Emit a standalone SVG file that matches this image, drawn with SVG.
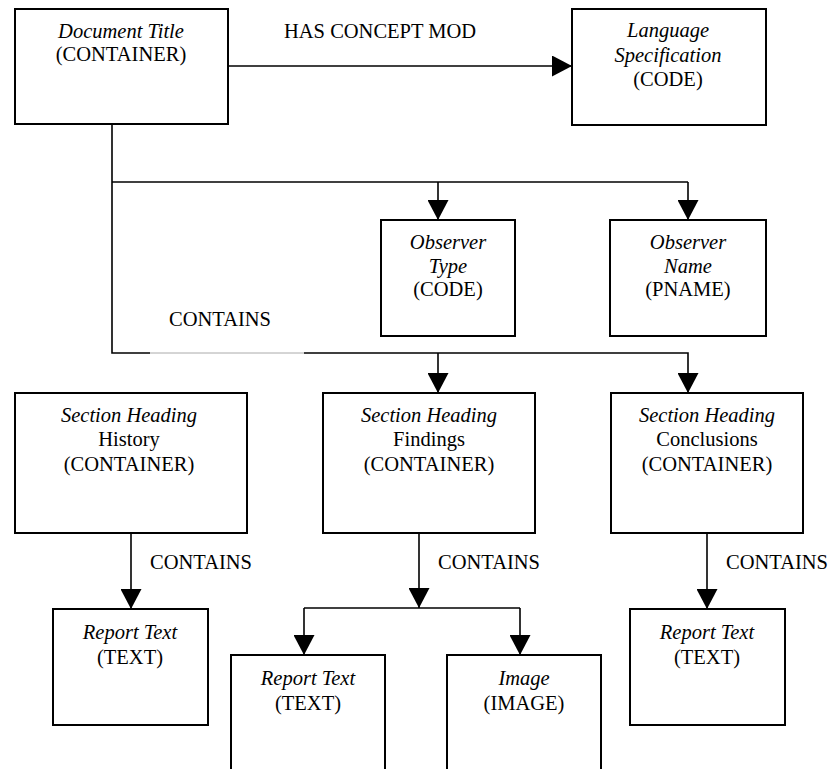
<svg xmlns="http://www.w3.org/2000/svg" width="834" height="769" viewBox="0 0 834 769">
<style>
  .box { fill: #ffffff; stroke: #000000; stroke-width: 2; }
  .ln { fill: none; stroke: #000000; stroke-width: 1.6; }
  text { font-family: "Liberation Serif", "Times New Roman", serif; font-size: 20.5px; fill: #000000; }
  .c { text-anchor: middle; }
  .i { font-style: italic; }
</style>
<defs>
  <marker id="arr" markerUnits="userSpaceOnUse" markerWidth="21" markerHeight="21" refX="20" refY="10.5" orient="auto" viewBox="0 0 21 21">
    <path d="M0,0 L20,10.5 L0,21 z" fill="#000000"/>
  </marker>
</defs>
<rect width="834" height="769" fill="#ffffff"/>

<g id="connectors">
  <line class="ln" x1="228" y1="66" x2="572" y2="66" marker-end="url(#arr)"/>
  <polyline class="ln" points="112,124 112,353 150,353"/>
  <line x1="150" y1="353" x2="304" y2="353" stroke="#aaaaaa" stroke-width="1"/>
  <polyline class="ln" points="304,353 688,353 688,393" marker-end="url(#arr)"/>
  <line class="ln" x1="438" y1="353" x2="438" y2="393" marker-end="url(#arr)"/>
  <line class="ln" x1="112" y1="182" x2="688" y2="182"/>
  <line class="ln" x1="438" y1="182" x2="438" y2="220" marker-end="url(#arr)"/>
  <line class="ln" x1="688" y1="182" x2="688" y2="220" marker-end="url(#arr)"/>
  <line class="ln" x1="131" y1="533" x2="131" y2="609" marker-end="url(#arr)"/>
  <line class="ln" x1="707" y1="533" x2="707" y2="609" marker-end="url(#arr)"/>
  <line class="ln" x1="419" y1="533" x2="419" y2="608" marker-end="url(#arr)"/>
  <line class="ln" x1="304" y1="608" x2="520" y2="608"/>
  <line class="ln" x1="304" y1="608" x2="304" y2="655" marker-end="url(#arr)"/>
  <line class="ln" x1="520" y1="608" x2="520" y2="655" marker-end="url(#arr)"/>
  <text x="284" y="38">HAS CONCEPT MOD</text>
  <text x="169" y="326">CONTAINS</text>
  <text x="150" y="569">CONTAINS</text>
  <text x="438" y="569">CONTAINS</text>
  <text x="726" y="569">CONTAINS</text>
</g>

<g id="doc-title">
  <rect class="box" x="15" y="9" width="213" height="115"/>
  <text class="c i" x="121" y="38">Document Title</text>
  <text class="c" x="121" y="61">(CONTAINER)</text>
</g>

<g id="language-spec">
  <rect class="box" x="572" y="9" width="194" height="116"/>
  <text class="c i" x="668" y="37">Language</text>
  <text class="c i" x="668" y="62">Specification</text>
  <text class="c" x="668" y="86">(CODE)</text>
</g>

<g id="observer-type">
  <rect class="box" x="381" y="220" width="134" height="116"/>
  <text class="c i" x="448" y="249">Observer</text>
  <text class="c i" x="448" y="272.5">Type</text>
  <text class="c" x="448" y="296">(CODE)</text>
</g>

<g id="observer-name">
  <rect class="box" x="610" y="220" width="156" height="116"/>
  <text class="c i" x="688" y="249">Observer</text>
  <text class="c i" x="688" y="272.5">Name</text>
  <text class="c" x="688" y="296">(PNAME)</text>
</g>

<g id="section-history">
  <rect class="box" x="15" y="393" width="232" height="140"/>
  <text class="c i" x="129" y="422">Section Heading</text>
  <text class="c" x="129" y="446">History</text>
  <text class="c" x="129" y="471">(CONTAINER)</text>
</g>

<g id="section-findings">
  <rect class="box" x="323" y="393" width="212" height="140"/>
  <text class="c i" x="429" y="422">Section Heading</text>
  <text class="c" x="429" y="446">Findings</text>
  <text class="c" x="429" y="471">(CONTAINER)</text>
</g>

<g id="section-conclusions">
  <rect class="box" x="611" y="393" width="192" height="140"/>
  <text class="c i" x="707" y="422">Section Heading</text>
  <text class="c" x="707" y="446">Conclusions</text>
  <text class="c" x="707" y="471">(CONTAINER)</text>
</g>

<g id="report-text-history">
  <rect class="box" x="53" y="609" width="155" height="116"/>
  <text class="c i" x="130" y="639">Report Text</text>
  <text class="c" x="130" y="664">(TEXT)</text>
</g>

<g id="report-text-findings">
  <rect class="box" x="231" y="655" width="154" height="130"/>
  <text class="c i" x="308" y="685">Report Text</text>
  <text class="c" x="308" y="710">(TEXT)</text>
</g>

<g id="image-findings">
  <rect class="box" x="447" y="655" width="154" height="130"/>
  <text class="c i" x="524" y="685">Image</text>
  <text class="c" x="524" y="710">(IMAGE)</text>
</g>

<g id="report-text-conclusions">
  <rect class="box" x="630" y="609" width="155" height="116"/>
  <text class="c i" x="707" y="639">Report Text</text>
  <text class="c" x="707" y="664">(TEXT)</text>
</g>
</svg>
